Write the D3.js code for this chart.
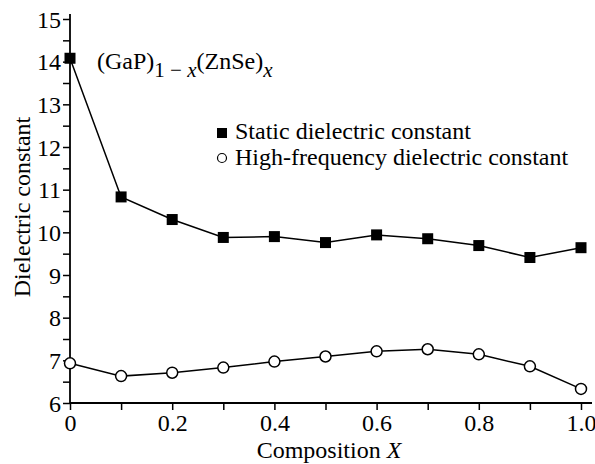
<!DOCTYPE html>
<html>
<head>
<meta charset="utf-8">
<script src="https://cdn.jsdelivr.net/npm/d3@7"></script>
<style>
  body { margin: 0; background: #fff; }
  svg { display: block; font-family: "Liberation Serif", "Times New Roman", serif; }
</style>
</head>
<body>
<div id="chart"></div>
<script>
var composition = [0, 0.1, 0.2, 0.3, 0.4, 0.5, 0.6, 0.7, 0.8, 0.9, 1.0];
var staticConst = [14.08, 10.83, 10.30, 9.88, 9.90, 9.76, 9.94, 9.85, 9.69, 9.41, 9.64];
var highFreqConst = [6.93, 6.63, 6.71, 6.83, 6.97, 7.09, 7.21, 7.26, 7.14, 6.86, 6.33];
var xTickLabels = ['0', '0.2', '0.4', '0.6', '0.8', '1.0'];
var yTickLabels = ['6', '7', '8', '9', '10', '11', '12', '13', '14', '15'];

var width = 595, height = 464;
var fs = '24px';

var svg = d3.select('#chart').append('svg')
    .attr('width', width).attr('height', height);

var x = d3.scaleLinear().domain([0, 1]).range([70, 581]);
var y = d3.scaleLinear().domain([6, 15]).range([403, 19]);

// x axis, minor ticks at odd tenths
var xAxis = d3.axisBottom(x)
    .tickValues(d3.range(0, 11).map(function (i) { return i / 10; }))
    .tickSize(7)
    .tickFormat(function (d) {
        var i = Math.round(d * 10);
        return i % 2 === 0 ? xTickLabels[i / 2] : '';
    });
var gx = svg.append('g').attr('transform', 'translate(0,' + y(6) + ')').call(xAxis);
gx.select('.domain').attr('d', 'M70,0H592');

// y axis, minor ticks every 0.5
var yAxis = d3.axisLeft(y)
    .tickValues(d3.range(0, 19).map(function (i) { return 6 + i / 2; }))
    .tickSize(7)
    .tickFormat(function (d) {
        return Number.isInteger(d) ? yTickLabels[d - 6] : '';
    });
var gy = svg.append('g').attr('transform', 'translate(' + x(0) + ',0)').call(yAxis);
gy.select('.domain').attr('d', 'M0,14V' + y(6));

svg.selectAll('.tick line').attr('stroke', '#000').attr('stroke-width', 1.5);
svg.selectAll('.domain').attr('stroke', '#000').attr('stroke-width', 1.8);
svg.selectAll('.tick text')
    .attr('fill', '#000')
    .style('font-size', fs)
    .style('font-family', '"Liberation Serif", serif');
gx.selectAll('.tick text').attr('y', 28).attr('dy', 0);
gy.selectAll('.tick text').attr('x', -9).attr('dy', '0.34em');

// axis titles
var xt = svg.append('text')
    .attr('x', 329).attr('y', 458)
    .attr('text-anchor', 'middle')
    .style('font-size', fs);
xt.append('tspan').text('Composition ');
xt.append('tspan').style('font-style', 'italic').text('X');

svg.append('text')
    .attr('transform', 'translate(30,207) rotate(-90)')
    .attr('text-anchor', 'middle')
    .style('font-size', fs)
    .text('Dielectric constant');

// lines
var line = d3.line()
    .x(function (d, i) { return x(composition[i]); })
    .y(function (d) { return y(d); });

svg.append('path').datum(staticConst)
    .attr('d', line).attr('fill', 'none')
    .attr('stroke', '#000').attr('stroke-width', 1.5);
svg.append('path').datum(highFreqConst)
    .attr('d', line).attr('fill', 'none')
    .attr('stroke', '#000').attr('stroke-width', 1.5);

var sq = 11;
svg.selectAll('rect.static')
    .data(staticConst)
    .enter().append('rect')
    .attr('class', 'static')
    .attr('x', function (d, i) { return x(composition[i]) - sq / 2; })
    .attr('y', function (d) { return y(d) - sq / 2; })
    .attr('width', sq).attr('height', sq)
    .attr('fill', '#000');

svg.selectAll('circle.hf')
    .data(highFreqConst)
    .enter().append('circle')
    .attr('class', 'hf')
    .attr('cx', function (d, i) { return x(composition[i]); })
    .attr('cy', function (d) { return y(d); })
    .attr('r', 5.5)
    .attr('fill', '#fff')
    .attr('stroke', '#000').attr('stroke-width', 1.5);

// legend
svg.append('rect')
    .attr('x', 217).attr('y', 128).attr('width', 10).attr('height', 10)
    .attr('fill', '#000');
svg.append('text').attr('x', 235).attr('y', 139)
    .style('font-size', fs).text('Static dielectric constant');
svg.append('circle')
    .attr('cx', 222).attr('cy', 158).attr('r', 4.5)
    .attr('fill', '#fff').attr('stroke', '#000').attr('stroke-width', 1.2);
svg.append('text').attr('x', 235).attr('y', 165)
    .style('font-size', fs).text('High-frequency dielectric constant');

// formula annotation
var f = svg.append('text').attr('x', 97).attr('y', 69).style('font-size', fs);
f.append('tspan').text('(GaP)');
f.append('tspan').attr('dy', 8).style('font-size', '21px').text('1 \u2212 ');
f.append('tspan').style('font-size', '21px').style('font-style', 'italic').text('x');
f.append('tspan').attr('dy', -8).text('(ZnSe)');
f.append('tspan').attr('dy', 8).style('font-size', '21px').style('font-style', 'italic').text('x');
</script>
</body>
</html>
